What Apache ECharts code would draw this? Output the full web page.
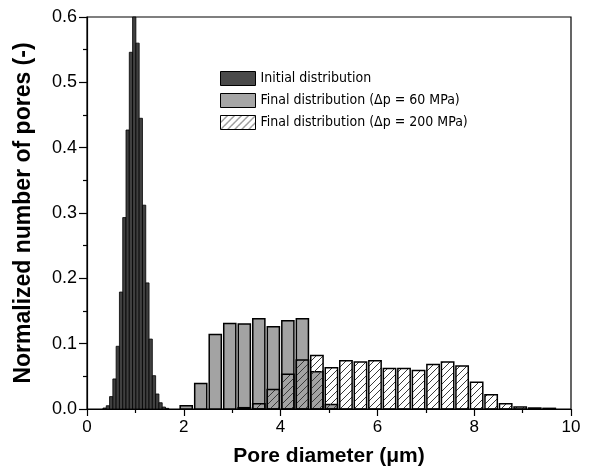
<!DOCTYPE html>
<html>
<head>
<meta charset="utf-8">
<script src="https://cdn.jsdelivr.net/npm/echarts@6/dist/echarts.min.js"></script>
<style>html,body{margin:0;padding:0;background:#fff;}#c{width:594px;height:472px;}</style>
</head>
<body>
<div id="c"></div>
<script>
// Initial distribution (narrow bins)
const initX = [0.364, 0.432, 0.500, 0.568, 0.636, 0.704, 0.772, 0.840, 0.908, 0.976,
               1.044, 1.112, 1.180, 1.248, 1.316, 1.384, 1.452, 1.520, 1.588, 1.656];
const initY = [0.0015, 0.005, 0.019, 0.046, 0.096, 0.179, 0.293, 0.427, 0.546, 0.63,
               0.560, 0.445, 0.312, 0.193, 0.107, 0.051, 0.023, 0.0096, 0.003, 0.001];
// Final distribution (dp = 60 MPa)
const grayX = [2.05, 2.35, 2.65, 2.95, 3.25, 3.55, 3.85, 4.15, 4.45, 4.75, 5.05];
const grayY = [0.005, 0.039, 0.114, 0.131, 0.130, 0.138, 0.126, 0.135, 0.138, 0.057, 0.007];
// Final distribution (dp = 200 MPa)
const hatchX = [3.25, 3.55, 3.85, 4.15, 4.45, 4.75, 5.05, 5.35, 5.65, 5.95, 6.25,
                6.55, 6.85, 7.15, 7.45, 7.75, 8.05, 8.35, 8.65, 8.95, 9.25, 9.55];
const hatchY = [0.002, 0.008, 0.030, 0.053, 0.075, 0.082, 0.063, 0.074, 0.072, 0.074, 0.062,
                0.062, 0.059, 0.068, 0.072, 0.066, 0.041, 0.022, 0.008, 0.003, 0.0015, 0.001];
const xTicks = [0, 2, 4, 6, 8, 10];
const yTicks = [0.0, 0.1, 0.2, 0.3, 0.4, 0.5, 0.6];
const seriesNames = ['Initial distribution', 'Final distribution (\u0394p = 60 MPa)', 'Final distribution (\u0394p = 200 MPa)'];

function hatchPattern() {
  const s = 7;
  const cv = document.createElement('canvas');
  cv.width = s; cv.height = s;
  const ctx = cv.getContext('2d');
  ctx.strokeStyle = '#3a3a3a';
  ctx.lineWidth = 1;
  ctx.beginPath();
  ctx.moveTo(0, s); ctx.lineTo(s, 0);
  ctx.moveTo(-1, 1); ctx.lineTo(1, -1);
  ctx.moveTo(s - 1, s + 1); ctx.lineTo(s + 1, s - 1);
  ctx.stroke();
  return { image: cv, repeat: 'repeat' };
}
const pat = hatchPattern();

function zip(a, b) { return a.map((v, i) => [v, b[i]]); }

function barRender(w, style) {
  return function (params, api) {
    const x = api.value(0), y = api.value(1);
    const p0 = api.coord([x - w / 2, y]);
    const p1 = api.coord([x + w / 2, 0]);
    const top = Math.max(p0[1], params.coordSys.y);
    return {
      type: 'rect',
      shape: { x: p0[0], y: top, width: p1[0] - p0[0], height: p1[1] - top },
      style: Object.assign({}, style)
    };
  };
}

const chart = echarts.init(document.getElementById('c'), null, { renderer: 'canvas' });
const font = 'Liberation Sans, Arial, sans-serif';
chart.setOption({
  animation: false,
  backgroundColor: '#fff',
  grid: { left: 87, right: 23, top: 17, bottom: 63, show: true, borderColor: '#000', borderWidth: 1.2 },
  legend: {
    orient: 'vertical', left: 220, top: 71, padding: 0, itemWidth: 35, itemHeight: 14, itemGap: 7,
    icon: 'rect',
    textStyle: { fontFamily: "'DejaVu Sans Condensed', 'DejaVu Sans', sans-serif", fontSize: 14, color: '#000' },
    data: [
      { name: seriesNames[0], itemStyle: { color: '#4a4a4a', borderColor: '#000', borderWidth: 1 } },
      { name: seriesNames[1], itemStyle: { color: '#a6a6a6', borderColor: '#000', borderWidth: 1 } },
      { name: seriesNames[2], itemStyle: { color: pat, borderColor: '#000', borderWidth: 1 } }
    ]
  },
  xAxis: {
    type: 'value', min: 0, max: 10, interval: 2,
    name: 'Pore diameter (\u03bcm)', nameLocation: 'middle', nameGap: 37,
    nameTextStyle: { fontFamily: font, fontSize: 21, fontWeight: 'bold', color: '#000' },
    axisLine: { show: true, lineStyle: { color: '#000', width: 1.2 } },
    axisTick: { show: true, inside: false, length: 7, lineStyle: { color: '#000', width: 1.2 } },
    minorTick: { show: true, splitNumber: 2, length: 4, lineStyle: { color: '#000', width: 1.2 } },
    axisLabel: { fontFamily: font, fontSize: 17, color: '#000', margin: 10,
      formatter: v => xTicks.includes(v) ? String(v) : '' },
    splitLine: { show: false }
  },
  yAxis: {
    type: 'value', min: 0, max: 0.6, interval: 0.1,
    name: 'Normalized number of pores (-)', nameLocation: 'middle', nameGap: 52,
    nameTextStyle: { fontFamily: font, fontSize: 23, fontWeight: 'bold', color: '#000' },
    axisLine: { show: true, lineStyle: { color: '#000', width: 1.2 } },
    axisTick: { show: true, inside: false, length: 8, lineStyle: { color: '#000', width: 1.2 } },
    minorTick: { show: true, splitNumber: 2, length: 4, lineStyle: { color: '#000', width: 1.2 } },
    axisLabel: { fontFamily: font, fontSize: 18, color: '#000', margin: 10,
      formatter: v => { const t = yTicks.find(k => Math.abs(k - v) < 1e-9); return t === undefined ? '' : t.toFixed(1); } },
    splitLine: { show: false }
  },
  series: [
    { name: seriesNames[0], type: 'custom', data: zip(initX, initY),
      itemStyle: { color: '#4a4a4a' },
      renderItem: barRender(0.068, { fill: '#404040', stroke: '#000', lineWidth: 0.8 }) },
    { name: seriesNames[1], type: 'custom', data: zip(grayX, grayY),
      itemStyle: { color: '#a6a6a6' },
      renderItem: barRender(0.25, { fill: '#a3a3a3', stroke: '#000', lineWidth: 1.5 }) },
    { name: seriesNames[2], type: 'custom', data: zip(hatchX, hatchY),
      itemStyle: { color: pat },
      renderItem: barRender(0.255, { fill: pat, stroke: '#000', lineWidth: 1.5 }) }
  ]
});
</script>
</body>
</html>
